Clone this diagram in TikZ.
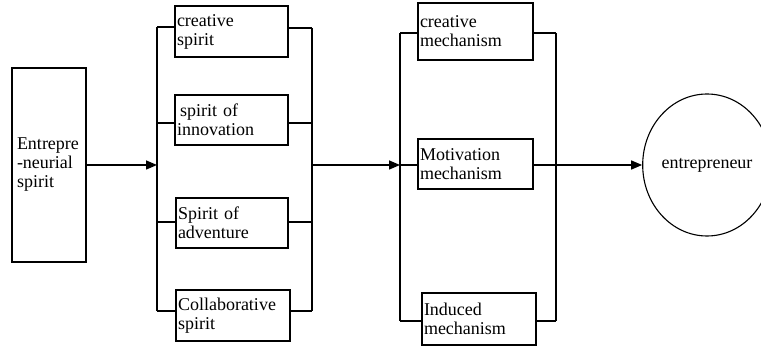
\documentclass[tikz,border=0pt]{standalone}
\usepackage{fontspec}
\setmainfont{Liberation Serif}
\usetikzlibrary{arrows.meta,shapes.geometric}
\begin{document}
\begin{tikzpicture}[x=1pt,y=-1pt,
		box/.style={draw=black,line width=1.1pt,inner xsep=2pt,inner ysep=0pt,align=left,font=\fontsize{18}{19}\selectfont},
		link/.style={line width=1.5pt},
		arr/.style={line width=1.5pt,-{Triangle[length=11pt,width=9pt]}}]
		\useasboundingbox (0,0) rectangle (761,347);
		
		\node[box,text width=64pt,minimum height=194pt,inner xsep=5pt] (S) at (49,165) {Entrepre\\-neurial\\spirit};
		\node[box,text width=109pt,minimum height=51pt] (A) at (231.5,31.5) {creative\\spirit};
		\node[box,text width=109pt,minimum height=50pt] (B) at (231.5,120) {\hspace{3pt}spirit of\\innovation};
		\node[box,text width=108pt,minimum height=50pt] (C) at (232,223) {Spirit of\\adventure};
		\node[box,text width=110pt,minimum height=51pt] (D) at (233,315.5) {Collaborative\\spirit};
		\node[box,text width=111pt,minimum height=57pt] (F) at (475.5,31.5) {creative\\mechanism};
		\node[box,text width=111pt,minimum height=50pt] (G) at (475.5,164) {Motivation\\mechanism};
		\node[box,text width=110pt,minimum height=52pt] (H) at (479,319) {Induced\\mechanism};
		\node[shape=ellipse,draw=black,line width=1.1pt,inner sep=0pt,minimum width=128pt,minimum height=142pt,font=\fontsize{18}{19}\selectfont] (Z) at (707,165) {entrepreneur};
		
		\coordinate (l1) at (157,27);
		\coordinate (l2) at (157,123);
		\coordinate (l3) at (157,222);
		\coordinate (l4) at (157,311);
		\coordinate (lm) at (157,165);
		\coordinate (r1) at (312,28);
		\coordinate (r2) at (312,123);
		\coordinate (r3) at (312,222);
		\coordinate (r4) at (312,311);
		\coordinate (rm) at (312,165);
		\coordinate (m1) at (400,33);
		\coordinate (m2) at (400,165);
		\coordinate (m3) at (400,321);
		\coordinate (n1) at (556,33);
		\coordinate (n2) at (556,165);
		\coordinate (n3) at (556,321);
		
		\draw[link] (l1) -- (l4);
		\draw[link] (r1) -- (r4);
		\draw[link] (m1) -- (m3);
		\draw[link] (n1) -- (n3);
		
		\path[link] (l1) edge (l1 -| A.west);
		\path[link] (l2) edge (l2 -| B.west);
		\path[link] (l3) edge (l3 -| C.west);
		\path[link] (l4) edge (l4 -| D.west);
		\path[link] (r1 -| A.east) edge (r1);
		\path[link] (r2 -| B.east) edge (r2);
		\path[link] (r3 -| C.east) edge (r3);
		\path[link] (r4 -| D.east) edge (r4);
		\path[link] (m1) edge (m1 -| F.west);
		\path[link] (m2) edge (m2 -| G.west);
		\path[link] (m3) edge (m3 -| H.west);
		\path[link] (n1 -| F.east) edge (n1);
		\path[link] (n2 -| G.east) edge (n2);
		\path[link] (n3 -| H.east) edge (n3);
		
		\draw[arr] (S) -- (lm);
		\draw[arr] (rm) -- (m2);
		\draw[arr] (n2) -- (Z);
		\end{tikzpicture}
\end{document}
